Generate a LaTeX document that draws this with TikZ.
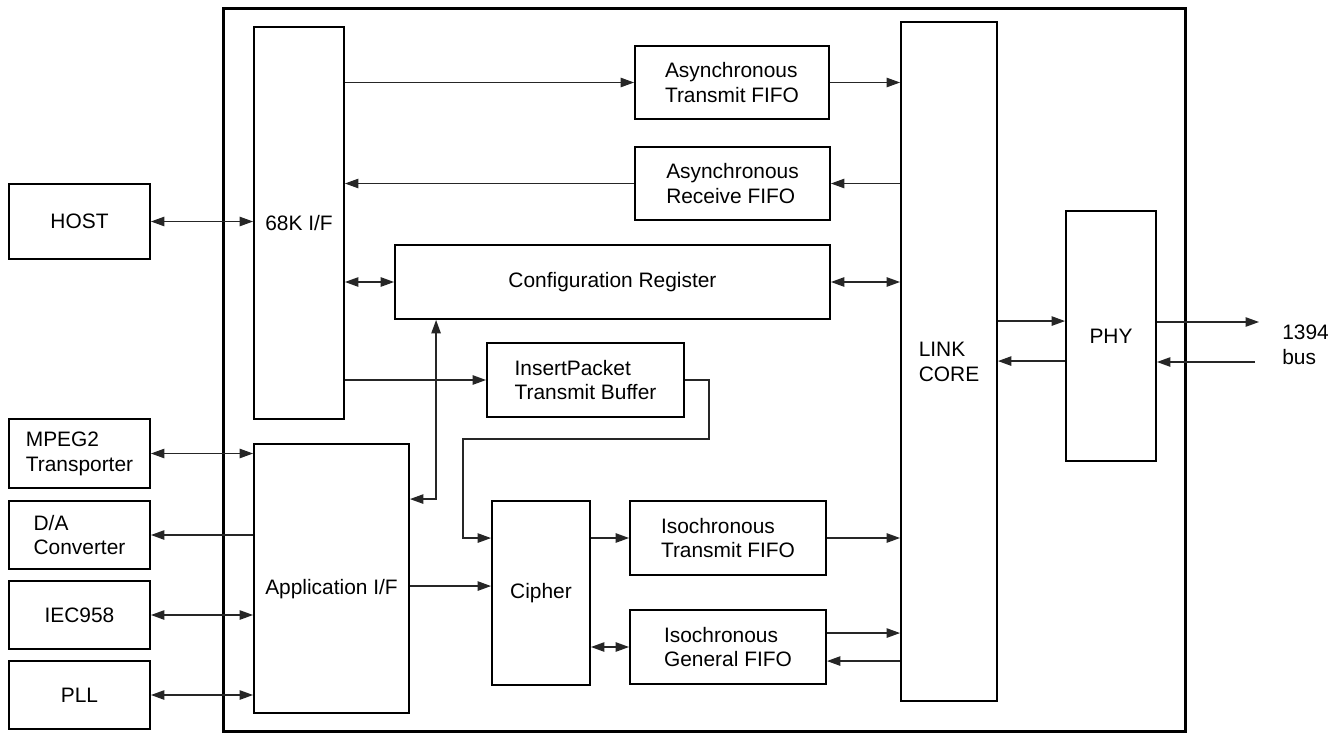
\documentclass[tikz,border=0pt]{standalone}
\usepackage{fontspec}
\setmainfont{Liberation Sans}
\usepackage{tikz}
\usetikzlibrary{arrows.meta,calc}

\begin{document}
\begin{tikzpicture}[x=0.02cm,y=-0.02cm,
  blk/.style={draw, line width=1.1pt, inner sep=0pt, align=left,
    font=\fontsize{11.9}{14.2}\selectfont},
  conn/.style={draw=black!85, line width=0.7pt, -{Triangle[length=0.27cm,width=0.19cm]}},
  bidir/.style={conn, {Triangle[length=0.27cm,width=0.19cm]}-{Triangle[length=0.27cm,width=0.19cm]}}]
\useasboundingbox (0,0) rectangle (1339,734);

% Chip frame
\node[draw, line width=1.7pt, minimum width=19.26cm, minimum height=14.48cm] (chip) at (704.5,370) {};

% External blocks
\node[blk, minimum width=2.82cm, minimum height=1.50cm] (host) at (79.5,221.5) {HOST};
\node[blk, minimum width=2.82cm, minimum height=1.38cm] (mpeg) at (79.5,453.5) {MPEG2\\Transporter};
\node[blk, minimum width=2.82cm, minimum height=1.36cm] (dac) at (79.5,535) {D/A\\Converter};
\node[blk, minimum width=2.82cm, minimum height=1.36cm] (iec) at (79.5,615) {IEC958};
\node[blk, minimum width=2.82cm, minimum height=1.36cm] (pll) at (79.5,695) {PLL};

% Internal blocks
\node[blk, minimum width=1.80cm, minimum height=7.84cm] (k68) at (299,223) {68K I/F};
\node[blk, minimum width=3.10cm, minimum height=5.38cm, text height=0.71cm, text depth=0.09cm] (app) at (331.5,578.5) {Application I/F};
\node[blk, minimum width=3.88cm, minimum height=1.46cm] (atx) at (732,82.5) {Asynchronous\\Transmit FIFO};
\node[blk, minimum width=3.90cm, minimum height=1.46cm] (arx) at (732.5,183.5) {Asynchronous\\Receive FIFO};
\node[blk, minimum width=8.70cm, minimum height=1.48cm] (cfg) at (612.5,282) {Configuration Register};
\node[blk, minimum width=3.94cm, minimum height=1.48cm] (ipk) at (585.5,380) {InsertPacket\\Transmit Buffer};
\node[blk, minimum width=1.96cm, minimum height=3.68cm] (ciph) at (541,593) {Cipher};
\node[blk, minimum width=3.92cm, minimum height=1.48cm] (itx) at (728,538) {Isochronous\\Transmit FIFO};
\node[blk, minimum width=3.92cm, minimum height=1.48cm] (igen) at (728,647) {Isochronous\\General FIFO};
\node[blk, minimum width=1.92cm, minimum height=13.58cm] (link) at (949,361.5) {LINK\\CORE};
\node[blk, minimum width=1.80cm, minimum height=5.00cm] (phy) at (1111,336) {PHY};

% Host side
\draw[bidir] (host.east) -- (host.east -| k68.west);
\draw[bidir] (mpeg.east) -- (mpeg.east -| app.west);
\draw[conn] (dac.east -| app.west) -- (dac.east);
\draw[bidir] (iec.east) -- (iec.east -| app.west);
\draw[bidir] (pll.east) -- (pll.east -| app.west);

% 68K I/F
\draw[conn] (atx.west -| k68.east) -- (atx.west);
\draw[conn] (arx.west) -- (arx.west -| k68.east);
\draw[bidir] (cfg.west -| k68.east) -- (cfg.west);
\draw[conn] (ipk.west -| k68.east) -- (ipk.west);

% Link core
\draw[conn] (atx.east) -- (atx.east -| link.west);
\draw[conn] (arx.east -| link.west) -- (arx.east);
\draw[bidir] (cfg.east) -- (cfg.east -| link.west);
\draw[conn] (itx.east) -- (itx.east -| link.west);
\draw[conn] ($(igen.north east)+(0,24)$) -- ($(igen.north east -| link.west)+(0,24)$);
\draw[conn] ($(igen.north east -| link.west)+(0,52)$) -- ($(igen.north east)+(0,52)$);

% Cipher
\draw[bidir] ($(cfg.south west)+(42,0)$) |- ($(app.north east)+(0,56)$);
\draw[conn] (ipk.east) -- ++(24,0) |- (463,439) |- ($(ciph.north west)+(0,38)$);
\draw[conn] ($(ciph.north west -| app.east)+(0,86)$) -- ($(ciph.north west)+(0,86)$);
\draw[conn] (itx.west -| ciph.east) -- (itx.west);
\draw[bidir] (igen.west -| ciph.east) -- (igen.west);

% PHY and bus
\draw[conn] ($(phy.north west -| link.east)+(0,111)$) -- ($(phy.north west)+(0,111)$);
\draw[conn] ($(phy.north west)+(0,151)$) -- ($(phy.north west -| link.east)+(0,151)$);
\coordinate (busout) at (1259,322);
\coordinate (busin) at (1255,362);
\draw[conn] (busout -| phy.east) -- (busout);
\draw[conn] (busin) -- (busin -| phy.east);
\node[anchor=west, align=left, inner sep=0pt, font=\fontsize{11.9}{14.2}\selectfont] (bus) at (1282,345) {1394\\bus};
\end{tikzpicture}
\end{document}
